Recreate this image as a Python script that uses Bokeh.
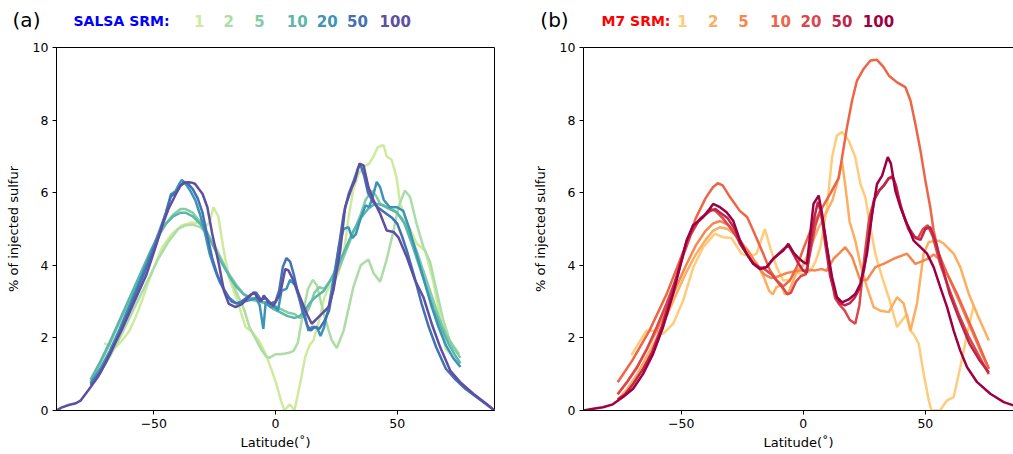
from bokeh.plotting import figure
from bokeh.models import Range1d, FixedTicker, LinearAxis
from bokeh.layouts import row, column
from bokeh.core.properties import value
from bokeh.embed import file_html
from bokeh.resources import INLINE

# ---------------- data: SALSA (panel a) ----------------
srm_labels = ["1", "2", "5", "10", "20", "50", "100"]

salsa1_lat = [-70.5, -68, -65.5, -63, -60, -57.5, -55, -52, -49, -46.5, -42.5, -38.5, -35, -32, -29, -27, -25.5, -23.5, -21.5, -19.2, -15.7, -12.3, -9.6, -6.8, -4.1, -1.5, 0.5, 2.3, 3.7, 5.8, 7.8, 10, 12.2, 14, 15.6, 18, 20, 22, 24, 26, 28, 30, 32, 34, 36.2, 38.5, 40.3, 42, 43.5, 44.5, 45.7, 47.8, 49.8, 51.2, 54, 58, 61.5, 63.5, 65, 67.6, 69.7, 71]
salsa1_val = [1.85, 1.8, 1.75, 1.93, 2.2, 2.57, 3.0, 3.58, 4.1, 4.5, 4.87, 5.1, 5.17, 5.18, 5.05, 5.2, 5.6, 5.35, 4.5, 3.67, 3.03, 2.3, 2.16, 1.93, 1.56, 1.1, 0.7, 0.26, 0.0, 0.17, 0.0, 0.7, 1.47, 1.8, 1.93, 2.5, 3.1, 3.4, 3.55, 3.8, 4.3, 5.3, 6.1, 6.5, 6.7, 6.8, 7.0, 7.25, 7.3, 7.3, 7.0, 6.9, 6.4, 5.7, 5.2, 4.6, 4.4, 3.9, 3.5, 2.6, 1.75, 1.6]

salsa2_lat = [-76, -72, -68, -64, -60, -56, -52, -48, -44, -40, -37, -34, -31, -28, -25, -22, -19, -16, -13, -10.7, -8, -6, -4, -2.5, 0, 2, 4, 6, 7.5, 9.2, 11.2, 13.3, 15.3, 17, 19.7, 23, 25.2, 28, 30, 32, 35, 38.2, 40.3, 43, 45.7, 48.5, 50.5, 53.2, 55.3, 58, 60.8, 63.5, 66.2, 68.9, 71.6, 75.5]
salsa2_val = [0.75, 1.05, 1.5, 2.0, 2.55, 3.1, 3.65, 4.2, 4.65, 5.0, 5.1, 5.12, 5.05, 4.85, 4.55, 4.15, 3.7, 3.25, 2.8, 2.3, 1.95, 1.7, 1.5, 1.45, 1.55, 1.55, 1.57, 1.6, 1.65, 1.87, 2.65, 3.34, 3.6, 3.45, 2.7, 1.95, 1.72, 2.2, 2.8, 3.4, 4.0, 4.16, 3.78, 3.55, 4.16, 4.96, 5.6, 6.06, 5.88, 5.14, 4.5, 4.1, 3.3, 2.5, 1.93, 1.55]

salsa5_lat = [-76, -72, -68, -64, -60, -56, -52, -48, -45, -42, -39, -37, -34, -31, -28, -25, -22, -19, -16, -13, -10, -7, -4, -1, 2, 5, 8, 10, 12, 14, 16, 18, 20, 23, 26, 29, 32, 35, 37, 39.5, 41, 43, 46, 49, 52, 55, 58, 61, 64, 67, 70, 73, 76]
salsa5_val = [0.8, 1.3, 1.85, 2.45, 3.05, 3.65, 4.25, 4.8, 5.15, 5.4, 5.55, 5.55, 5.45, 5.2, 4.9, 4.5, 4.1, 3.75, 3.45, 3.2, 3.05, 3.0, 2.95, 2.9, 2.8, 2.7, 2.65, 2.55, 2.6, 2.85, 3.25, 3.4, 3.35, 3.6, 3.9, 4.4, 4.9, 5.4, 5.8, 6.05, 5.95, 5.7, 5.6, 5.5, 5.3, 4.9, 4.4, 3.8, 3.2, 2.6, 2.1, 1.75, 1.45]

salsa10_lat = [-76, -72, -68, -64, -60, -56, -52, -48, -45, -42, -39, -37, -34, -31, -28, -25, -22, -19, -16, -13, -10, -7, -4, -1, 2, 5, 8, 10, 12, 14, 16, 18, 20, 23, 26, 29, 32, 35, 38, 41, 44, 47, 50, 53, 56, 59, 62, 65, 68, 71, 74, 76]
salsa10_val = [0.85, 1.35, 1.9, 2.5, 3.1, 3.7, 4.3, 4.85, 5.15, 5.35, 5.45, 5.45, 5.35, 5.15, 4.85, 4.45, 4.05, 3.7, 3.4, 3.2, 3.1, 3.05, 2.95, 2.8, 2.7, 2.6, 2.55, 2.6, 2.75, 2.95, 3.1, 3.2, 3.3, 3.65, 4.05, 4.5, 4.95, 5.3, 5.55, 5.7, 5.65, 5.55, 5.45, 5.15, 4.6, 4.0, 3.4, 2.8, 2.3, 1.85, 1.5, 1.3]

salsa20_lat = [-76, -72, -68, -64, -60, -56, -52, -48, -45, -43, -41, -39.5, -38.5, -37, -35, -33, -31, -29, -27, -25, -23, -21, -19, -16, -13, -10, -8, -6.5, -5, -4, -2, 0, 1, 2.5, 4.5, 6, 8, 10, 12, 13.5, 15, 17, 18.5, 20, 22, 24, 26, 28, 30, 31.5, 33, 35, 37, 38.5, 40, 41.6, 43, 44.5, 47, 50, 52.5, 55, 58, 61, 64, 67, 70, 73, 76]
salsa20_val = [0.75, 1.15, 1.65, 2.25, 2.9, 3.55, 4.2, 4.9, 5.45, 5.95, 6.05, 6.25, 6.35, 6.25, 6.05, 5.8, 5.4, 4.9, 4.3, 3.9, 3.55, 3.3, 3.1, 2.95, 3.0, 3.05, 3.1, 2.9, 2.25, 3.0, 2.85, 2.85, 2.75, 3.3, 3.35, 3.6, 3.45, 3.05, 2.65, 2.2, 2.3, 2.3, 2.05, 2.3, 2.9, 3.7, 4.5, 5.0, 5.05, 4.75, 4.85, 5.3, 5.65, 5.6, 5.9, 6.3, 6.15, 5.8, 5.6, 5.6, 5.5, 5.0, 4.3, 3.6, 2.9, 2.3, 1.8, 1.45, 1.2]

salsa50_lat = [-76, -72, -68, -64, -60, -56, -52, -48, -45, -43, -41, -39, -37.5, -36, -34, -32, -30, -28, -26, -24, -22, -20, -18, -16, -14, -12, -10, -8, -6, -4, -2, 0, 1.5, 3, 4.5, 6, 7.5, 9, 11, 13, 14.5, 16, 18, 20, 22, 24, 26, 28, 30, 32, 34, 35, 36.5, 38, 40, 42, 45, 48, 50, 52, 54, 57, 60, 63, 66, 70, 74, 78, 82, 86, 90]
salsa50_val = [0.7, 1.05, 1.55, 2.15, 2.8, 3.45, 4.1, 4.8, 5.45, 5.9, 6.0, 6.2, 6.3, 6.25, 6.1, 5.85, 5.45, 4.8, 4.2, 3.75, 3.45, 3.2, 3.0, 2.95, 3.0, 3.1, 3.2, 3.25, 3.05, 3.1, 2.95, 3.0, 3.3, 3.95, 4.2, 4.1, 3.75, 3.3, 2.75, 2.35, 2.2, 2.3, 2.25, 2.45, 2.75, 3.5, 4.5, 5.4, 5.95, 6.3, 6.7, 6.75, 6.45, 6.0, 5.75, 5.6, 5.45, 5.3, 5.15, 4.8, 4.4, 3.7, 2.95, 2.3, 1.75, 1.15, 0.85, 0.6, 0.4, 0.2, 0.0]

salsa100_lat = [-90, -88, -85, -82, -80, -77, -73, -70, -66, -63, -60, -56, -53, -49.3, -46.5, -44, -41, -39, -37, -35.5, -34, -33, -31.5, -30, -28, -26, -23.3, -21.2, -19.2, -16.4, -13.7, -11.6, -8.9, -7.5, -6, -4.8, -2.8, -0.8, 1.9, 4.0, 5.3, 7.4, 10.1, 12.9, 14.9, 18.4, 21.8, 23.8, 26.6, 28.6, 31.4, 32.7, 34.5, 36.2, 38.2, 40.3, 43, 45.7, 48.5, 50.5, 54, 57.4, 60.8, 64.2, 67.7, 71.8, 75.9, 81.3, 86.8, 90]
salsa100_val = [0.0, 0.08, 0.15, 0.2, 0.28, 0.55, 0.92, 1.29, 1.85, 2.25, 2.7, 3.3, 3.75, 4.5, 5.1, 5.55, 5.95, 6.2, 6.28, 6.29, 6.27, 6.24, 6.1, 5.97, 5.6, 4.87, 4.04, 3.3, 2.94, 2.85, 2.94, 3.08, 3.26, 3.12, 3.0, 3.17, 2.98, 2.89, 3.21, 3.9, 3.86, 3.58, 3.12, 2.66, 2.39, 2.62, 2.85, 3.31, 4.4, 5.6, 6.15, 6.34, 6.8, 6.75, 6.15, 5.79, 5.42, 4.96, 4.92, 4.77, 4.22, 3.58, 3.12, 2.39, 1.74, 1.1, 0.78, 0.46, 0.18, 0.0]

# ---------------- data: M7 (panel b) ----------------
m7_1_lat = [-70.4, -67, -64.2, -60.8, -57.4, -53.3, -49.2, -45, -41, -36.2, -32.8, -29.4, -25.3, -21.8, -19.1, -15.7, -13.6, -10.9, -8.2, -5.5, -2.7, 0, 3, 5, 7, 9.7, 11.8, 13.8, 15.9, 18.6, 21.3, 23.4, 25.4, 27.5, 29.5, 32.3, 35, 38.4, 40.4, 42.5, 43.9, 45.2, 47.3, 49.3, 51.4, 52.5, 56, 58.9, 61.6, 64.3, 67.1, 69.8]
m7_1_val = [1.52, 1.9, 2.2, 2.2, 2.11, 2.39, 3.03, 3.95, 4.5, 4.87, 4.77, 4.75, 4.32, 4.23, 4.32, 5.0, 4.5, 3.95, 3.58, 3.6, 3.8, 3.75, 3.85, 4.1, 4.5, 5.6, 6.98, 7.58, 7.67, 7.44, 6.98, 6.24, 5.88, 5.05, 4.32, 3.67, 3.12, 2.3, 2.48, 2.66, 2.2, 2.1, 1.84, 1.01, 0.28, 0.0, 0.0, 0.28, 0.37, 1.19, 2.11, 2.89]

m7_2_lat = [-76, -72, -68, -64, -60, -56, -52, -48, -44, -40, -37, -34, -31, -28, -25, -22, -19, -16, -14, -12.5, -11, -9, -7.5, -6, -4, -2, 0, 3, 6, 9, 12, 14, 15.9, 17.2, 19, 21.3, 23.5, 26.1, 28.8, 31.6, 35, 38.4, 41.1, 43.9, 46.6, 49.3, 51.4, 55.5, 57.5, 61.6, 64.3, 67.8, 71.2, 76]
m7_2_val = [0.3, 0.6, 1.0, 1.5, 2.0, 2.6, 3.2, 3.8, 4.3, 4.7, 4.95, 5.05, 5.0, 4.85, 4.5, 4.25, 4.05, 3.65, 3.3, 3.2, 3.4, 3.45, 3.2, 3.25, 3.6, 3.9, 4.0, 4.5, 5.0, 5.4, 5.8, 6.3, 6.85, 6.2, 5.2, 4.68, 4.0, 3.4, 2.85, 2.75, 2.71, 3.12, 2.95, 2.2, 2.95, 4.32, 4.64, 4.68, 4.6, 4.32, 3.95, 3.21, 2.66, 1.93]

m7_5_lat = [-76, -72, -68, -64, -60, -56, -52, -48, -44, -40, -37, -34, -31, -28, -25, -22, -19, -16, -13, -10, -7, -4, -1, 2, 5, 7.5, 9.5, 12.4, 15, 17.2, 20, 23.4, 26.1, 29.5, 32.9, 37, 42.5, 45.9, 49.3, 51.5, 53.4, 56, 60.2, 64.3, 68.4, 72.5, 76]
m7_5_val = [0.45, 0.8, 1.2, 1.7, 2.2, 2.8, 3.4, 4.0, 4.55, 4.95, 5.15, 5.22, 5.12, 4.92, 4.6, 4.35, 4.0, 3.75, 3.65, 3.7, 3.78, 3.83, 3.86, 3.88, 3.86, 3.9, 3.85, 4.18, 4.35, 4.5, 4.23, 3.58, 3.6, 3.95, 4.04, 4.18, 4.32, 4.04, 4.13, 4.2, 4.3, 4.15, 3.58, 2.94, 2.3, 1.65, 1.15]

m7_10_lat = [-76, -70, -63, -56, -49, -44, -40, -37, -35, -33, -30, -26, -23, -20.5, -16.4, -13.6, -11, -8.2, -5.5, -2.7, 0, 3, 7, 11, 14.5, 17.9, 20, 22, 24.7, 27.5, 30.2, 32.9, 35, 38.4, 41.8, 43.9, 45.9, 48, 50, 52, 53.4, 55.5, 58.9, 63, 67.1, 71.2, 76]
m7_10_val = [0.78, 1.38, 2.2, 3.2, 4.4, 5.3, 5.85, 6.15, 6.26, 6.2, 5.88, 5.5, 5.33, 4.96, 4.32, 3.86, 3.6, 3.42, 3.58, 3.95, 4.45, 4.96, 5.5, 5.97, 6.4, 7.8, 8.54, 9.09, 9.41, 9.64, 9.66, 9.46, 9.23, 9.04, 8.91, 8.54, 7.9, 7.16, 6.34, 5.6, 4.96, 4.32, 3.77, 3.21, 2.57, 1.93, 1.15]

m7_20_lat = [-76, -72, -68, -64, -60, -56, -52, -49, -46, -43, -40, -38, -36, -33, -30, -27, -24, -21, -18, -16, -13, -10, -8, -6.5, -5, -3, -1, 1, 3, 5, 7, 9, 11, 13, 15, 17, 19, 21.3, 23, 25, 27, 29, 31, 33, 35, 37, 39, 41, 43, 45, 47, 49, 51, 53, 56, 60, 64, 68, 72, 76]
m7_20_val = [0.45, 0.8, 1.2, 1.7, 2.3, 2.95, 3.65, 4.3, 4.85, 5.2, 5.4, 5.55, 5.5, 5.3, 5.05, 4.75, 4.4, 4.1, 3.95, 3.9, 3.75, 3.5, 3.35, 3.2, 3.25, 3.55, 3.7, 3.75, 4.4, 5.1, 5.5, 4.8, 3.9, 3.1, 2.9, 2.75, 2.5, 2.39, 2.9, 4.2, 5.3, 5.8, 6.05, 6.2, 6.4, 6.4, 5.85, 5.4, 5.0, 4.8, 4.75, 5.0, 5.1, 4.8, 4.05, 3.3, 2.6, 2.0, 1.5, 1.0]

m7_50_lat = [-76, -73, -70, -66, -62, -58, -54, -51, -48, -45, -42, -40, -38, -36, -34, -31, -28, -26, -23, -20.5, -18, -15, -12, -8, -6, -4, -2, 0, 1.5, 3, 4.5, 6, 7.5, 9, 11, 13, 15, 17, 19, 21, 23, 25, 27, 29, 31, 33, 35, 36.5, 38, 40, 42, 44, 46, 48, 50, 52, 54, 57, 60, 64, 68, 72, 76]
m7_50_val = [0.3, 0.45, 0.7, 1.1, 1.6, 2.3, 3.2, 3.9, 4.6, 5.05, 5.3, 5.4, 5.5, 5.55, 5.45, 5.3, 5.0, 4.6, 4.3, 4.05, 3.92, 3.95, 4.2, 4.45, 4.55, 4.3, 4.05, 3.85, 3.8, 4.6, 5.3, 5.75, 5.4, 4.6, 3.7, 3.2, 2.95, 2.9, 2.95, 3.1, 3.35, 3.9, 4.9, 5.8, 6.05, 6.2, 6.4, 6.45, 6.2, 5.6, 5.2, 4.95, 4.75, 4.7, 5.0, 5.05, 4.7, 3.95, 3.2, 2.5, 1.85, 1.4, 1.05]

m7_100_lat = [-90, -86, -82, -78, -73.8, -69.7, -65.6, -61.5, -57.4, -53.3, -50.5, -47.8, -45.1, -41, -38.3, -36.9, -34.1, -31.4, -28.7, -25.9, -23.2, -20.5, -17.7, -15, -12.3, -8.2, -6.1, -4.1, -2, 0, 1.5, 4.2, 6.3, 7.7, 9.7, 11.8, 13.8, 15.9, 18.6, 21.3, 23.4, 26.1, 28.2, 30.2, 32.3, 34.6, 35.9, 37.7, 39.8, 42.5, 45.2, 48, 50.7, 53.4, 56.1, 58.9, 61.6, 64.3, 67.1, 71.2, 76.6, 82.1, 86.1, 90]
m7_100_val = [0.0, 0.05, 0.09, 0.17, 0.37, 0.6, 1.01, 1.56, 2.3, 3.21, 3.95, 4.68, 5.1, 5.33, 5.56, 5.69, 5.6, 5.46, 5.23, 4.68, 4.32, 4.04, 3.9, 3.95, 4.18, 4.41, 4.59, 4.36, 4.2, 4.09, 4.04, 5.69, 5.92, 5.42, 4.5, 3.67, 3.12, 2.98, 3.06, 3.21, 3.49, 4.32, 5.42, 6.24, 6.47, 6.98, 6.8, 6.06, 5.6, 5.14, 4.68, 4.5, 4.32, 3.95, 3.4, 2.85, 2.2, 1.65, 1.19, 0.78, 0.46, 0.23, 0.14, 0.05]

salsa_series = [(salsa1_lat, salsa1_val), (salsa2_lat, salsa2_val), (salsa5_lat, salsa5_val),
                (salsa10_lat, salsa10_val), (salsa20_lat, salsa20_val), (salsa50_lat, salsa50_val),
                (salsa100_lat, salsa100_val)]
m7_series = [(m7_1_lat, m7_1_val), (m7_2_lat, m7_2_val), (m7_5_lat, m7_5_val),
             (m7_10_lat, m7_10_val), (m7_20_lat, m7_20_val), (m7_50_lat, m7_50_val),
             (m7_100_lat, m7_100_val)]

salsa_colors = ["#ceeb9d", "#abdda4", "#82cda5", "#5cb6aa", "#3c94b8", "#4471b2", "#5e4fa2"]
m7_colors = ["#fecc7a", "#fdae61", "#f8874f", "#ee6445", "#db474d", "#bf264a", "#9e0142"]

FONT = "DejaVu Sans"
TICK_PX = "12.5px"
LABEL_PX = "13px"
HEADER_H = 36


def style(p):
    p.xgrid.visible = False
    p.ygrid.visible = False
    p.background_fill_color = "white"
    p.border_fill_color = "white"
    p.xaxis.ticker = FixedTicker(ticks=[-50, 0, 50])
    p.xaxis.major_label_overrides = {-50: "\u221250", 0: "0", 50: "50"}
    p.yaxis.ticker = FixedTicker(ticks=[0, 2, 4, 6, 8, 10])
    for ax in (p.xaxis, p.yaxis):
        ax.minor_tick_line_color = None
        ax.major_tick_in = 0
        ax.major_tick_out = 4
        ax.major_tick_line_color = "black"
        ax.axis_line_color = "black"
        ax.major_label_text_font = FONT
        ax.major_label_text_font_size = TICK_PX
        ax.major_label_text_color = "black"
        ax.axis_label_text_font = FONT
        ax.axis_label_text_font_size = LABEL_PX
        ax.axis_label_text_font_style = "normal"
        ax.axis_label_text_color = "black"
    p.xaxis.axis_label = "Latitude(\u02da)"
    p.yaxis.axis_label = "% of injected sulfur"
    p.xaxis.major_label_standoff = 4
    p.xaxis.axis_label_standoff = 4
    p.yaxis.major_label_standoff = 4
    p.yaxis.axis_label_standoff = 9


# ---------------- panel (a) ----------------
pa = figure(width=506, height=454 - HEADER_H, x_range=Range1d(-90, 90), y_range=Range1d(0, 10),
            output_backend="svg", toolbar_location=None,
            min_border_left=56, min_border_right=12, min_border_top=47 - HEADER_H, min_border_bottom=44)
style(pa)
pa.outline_line_color = "black"
pa.outline_line_alpha = 1.0
for (lat, val), c in zip(salsa_series, salsa_colors):
    pa.line(lat, val, line_color=c, line_width=2.5)

# ---------------- panel (b) ----------------
pb = figure(width=507, height=454 - HEADER_H, x_range=Range1d(-90, 86.1), y_range=Range1d(0, 10),
            output_backend="svg", toolbar_location=None,
            min_border_left=77, min_border_right=0, min_border_top=47 - HEADER_H, min_border_bottom=44)
style(pb)
pb.outline_line_color = None
top_axis = LinearAxis(ticker=FixedTicker(ticks=[]), axis_line_color="black",
                      major_tick_line_color=None, minor_tick_line_color=None,
                      major_label_text_font_size="0px")
pb.add_layout(top_axis, "above")
for (lat, val), c in zip(m7_series, m7_colors):
    pb.line(lat, val, line_color=c, line_width=2.5)


# ---------------- header strips (x, y in page pixels, y downward) ----------------
def header(width, x0):
    h = figure(width=width, height=HEADER_H, x_range=Range1d(x0, x0 + width),
               y_range=Range1d(HEADER_H, 0), output_backend="svg", toolbar_location=None,
               min_border=0, min_border_left=0, min_border_right=0, min_border_top=0,
               min_border_bottom=0)
    h.axis.visible = False
    h.grid.visible = False
    h.outline_line_color = None
    h.background_fill_color = "white"
    h.border_fill_color = "white"
    return h


def put(h, x, y, text, color="black", size="14px", bold=True, align="center"):
    h.text(x=[x], y=[y], text=[text], text_color=color, text_font=value(FONT),
           text_font_size=value(size), text_font_style="bold" if bold else "normal",
           text_align=align, text_baseline="middle")


ha = header(506, 0)
put(ha, 26, 19, "(a)", size="20px", bold=False)
put(ha, 73, 20, "SALSA SRM:", color="#0000ff", align="left")
salsa_centers = [198.7, 228.3, 259, 296.7, 326.7, 357, 394.7]
for t, cx, c in zip(srm_labels, salsa_centers, salsa_colors):
    put(ha, cx, 20, t, color=c, size="15px")

hb = header(507, 506)
put(hb, 554, 19, "(b)", size="20px", bold=False)
put(hb, 601, 20, "M7 SRM:", color="#ff0000", align="left")
m7_centers = [682, 712.7, 743, 780, 810.5, 841.5, 878]
for t, cx, c in zip(srm_labels, m7_centers, m7_colors):
    put(hb, cx, 20, t, color=c, size="15px")

layout = column(row(ha, hb), row(pa, pb))
open("out.html", "w").write(file_html(layout, INLINE))
